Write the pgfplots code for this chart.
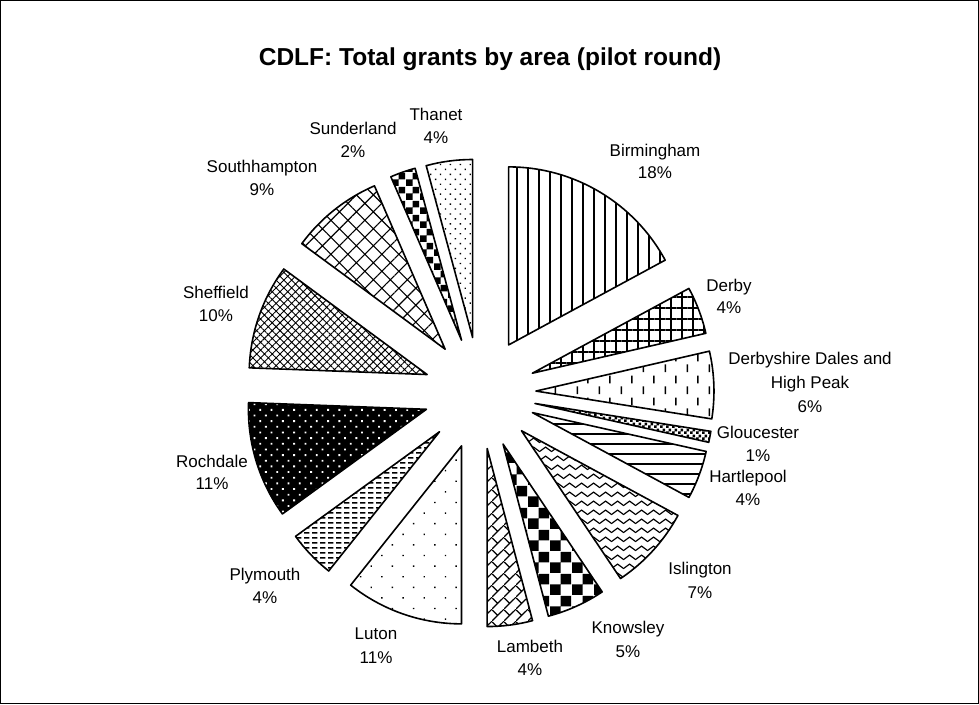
\documentclass[border=0pt]{standalone}
\usepackage{pgfplots}
\pgfplotsset{compat=1.18}
\usepackage{pgfplotstable}
\usepackage{fontspec}
\setmainfont{Liberation Sans}
\usetikzlibrary{patterns,patterns.meta}

% ---- custom hatch patterns ----
\tikzdeclarepattern{name=vdash,type=uncolored,
  bounding box={(0pt,0pt) and (22pt,22pt)},tile size={(22pt,22pt)},
  code={\draw[line width=1.6pt] (5.5pt,2pt) -- (5.5pt,10pt) (16.5pt,13pt) -- (16.5pt,21pt);}}
\tikzdeclarepattern{name=smallcheck,type=uncolored,
  bounding box={(0pt,0pt) and (6pt,6pt)},tile size={(6pt,6pt)},
  code={\fill (0pt,0pt) rectangle (3pt,3pt) (3pt,3pt) rectangle (6pt,6pt);}}
\tikzdeclarepattern{name=medcheck,type=uncolored,
  bounding box={(0pt,0pt) and (14pt,14pt)},tile size={(14pt,14pt)},
  code={\fill (0pt,0pt) rectangle (7pt,7pt) (7pt,7pt) rectangle (14pt,14pt);}}
\tikzdeclarepattern{name=bigcheck,type=uncolored,
  bounding box={(0pt,0pt) and (22pt,22pt)},tile size={(22pt,22pt)},
  code={\fill (0pt,0pt) rectangle (11pt,11pt) (11pt,11pt) rectangle (22pt,22pt);}}
\tikzdeclarepattern{name=zigzag,type=uncolored,
  bounding box={(0pt,0pt) and (12pt,9pt)},tile size={(12pt,9pt)},
  code={\draw[line width=1.3pt] (-1pt,1.5pt) -- (0pt,2pt) -- (6pt,6.5pt) -- (12pt,2pt) -- (13pt,1.5pt);}}
\tikzdeclarepattern{name=hdash,type=uncolored,
  bounding box={(0pt,0pt) and (8pt,5pt)},tile size={(8pt,5pt)},
  code={\draw[line width=2pt] (0pt,2.5pt) -- (6pt,2.5pt);}}
\tikzdeclarepattern{name=diagbrick,type=uncolored,
  bounding box={(0pt,0pt) and (12pt,12pt)},tile size={(12pt,12pt)},
  code={\draw[line width=1.3pt] (-1pt,-1pt) -- (13pt,13pt) (6pt,6pt) -- (0pt,12pt);}}

\tikzset{
  slicebase/.style={draw=black,line width=1.6pt,line join=round},
  slice0/.style={slicebase,pattern={Lines[angle=90,distance=11pt,line width=2pt]}},
  slice1/.style={slicebase,pattern={Hatch[angle=0,distance=11pt,line width=2pt]}},
  slice2/.style={slicebase,pattern=vdash},
  slice3/.style={slicebase,pattern=smallcheck},
  slice4/.style={slicebase,pattern={Lines[angle=0,distance=10pt,line width=2.2pt]}},
  slice5/.style={slicebase,pattern=zigzag},
  slice6/.style={slicebase,pattern=bigcheck},
  slice7/.style={slicebase,pattern=diagbrick},
  slice8/.style={slicebase,pattern={Dots[angle=45,distance=15pt,radius=1pt]}},
  slice9/.style={slicebase,pattern=hdash},
  slice10/.style={slicebase,preaction={fill=black},pattern={Dots[angle=45,distance=8pt,radius=1.3pt]},pattern color=white},
  slice11/.style={slicebase,pattern={Hatch[angle=45,distance=5.5pt,line width=0.9pt]}},
  slice12/.style={slicebase,pattern={Hatch[angle=45,distance=12pt,line width=1.1pt]}},
  slice13/.style={slicebase,pattern=medcheck},
  slice14/.style={slicebase,pattern={Dots[angle=45,distance=7pt,radius=1pt]}},
}

% share of each area (percent of total grants), clockwise from 12 o'clock
\pgfplotstableread[col sep=comma]{
area,share
Birmingham,17.1
Derby,4.3
Derbyshire Dales and High Peak,6.1
Gloucester,1.0
Hartlepool,4.4
Islington,7.7
Knowsley,5.3
Lambeth,4.1
Luton,10.7
Plymouth,4.3
Rochdale,10.6
Sheffield,9.5
Southhampton,8.4
Sunderland,2.3
Thanet,4.2
}\pietable

\newcommand\lbl{\fontsize{17}{20}\selectfont}

\begin{document}
\begin{tikzpicture}
\begin{axis}[
  width=979pt, height=704pt, scale only axis,
  xmin=0, xmax=979, ymin=0, ymax=704, y dir=reverse,
  hide axis, clip=false,
]
\def\cum{0}
\pgfplotsforeachungrouped \i in {0,...,14}{%
  \pgfplotstablegetelem{\i}{share}\of\pietable
  \let\val\pgfplotsretval
  \pgfmathsetmacro\aone{90-3.6*\cum}%
  \pgfmathsetmacro\cum{\cum+\val}%
  \pgfmathsetmacro\atwo{90-3.6*\cum}%
  \pgfmathsetmacro\amid{(\aone+\atwo)/2}%
  \edef\temp{\noexpand\draw[slice\i] ([shift={(\amid:56pt)}]axis cs:480,393) -- ++(\aone:178pt) arc[start angle=\aone, end angle=\atwo, radius=178pt] -- cycle;}%
  \temp
}

\draw[line width=1pt] (axis cs:0.5,0.5) rectangle (axis cs:978.5,703.5);

\node[anchor=base,font=\fontsize{24.5}{28}\selectfont\bfseries] at (axis cs:490,65) {CDLF: Total grants by area (pilot round)};

\node[anchor=base,font=\lbl] at (axis cs:655,156) {Birmingham};
\node[anchor=base,font=\lbl] at (axis cs:655,178) {18\%};
\node[anchor=base,font=\lbl] at (axis cs:729,291) {Derby};
\node[anchor=base,font=\lbl] at (axis cs:729,313) {4\%};
\node[anchor=base,font=\lbl] at (axis cs:810,364) {Derbyshire Dales and};
\node[anchor=base,font=\lbl] at (axis cs:810,388) {High Peak};
\node[anchor=base,font=\lbl] at (axis cs:810,412) {6\%};
\node[anchor=base,font=\lbl] at (axis cs:758,438) {Gloucester};
\node[anchor=base,font=\lbl] at (axis cs:758,461) {1\%};
\node[anchor=base,font=\lbl] at (axis cs:748,482) {Hartlepool};
\node[anchor=base,font=\lbl] at (axis cs:748,505) {4\%};
\node[anchor=base,font=\lbl] at (axis cs:700,574) {Islington};
\node[anchor=base,font=\lbl] at (axis cs:700,598) {7\%};
\node[anchor=base,font=\lbl] at (axis cs:628,633) {Knowsley};
\node[anchor=base,font=\lbl] at (axis cs:628,657) {5\%};
\node[anchor=base,font=\lbl] at (axis cs:530,652) {Lambeth};
\node[anchor=base,font=\lbl] at (axis cs:530,675) {4\%};
\node[anchor=base,font=\lbl] at (axis cs:376,639) {Luton};
\node[anchor=base,font=\lbl] at (axis cs:376,663) {11\%};
\node[anchor=base,font=\lbl] at (axis cs:265,580) {Plymouth};
\node[anchor=base,font=\lbl] at (axis cs:265,603) {4\%};
\node[anchor=base,font=\lbl] at (axis cs:212,467) {Rochdale};
\node[anchor=base,font=\lbl] at (axis cs:212,489) {11\%};
\node[anchor=base,font=\lbl] at (axis cs:216,298) {Sheffield};
\node[anchor=base,font=\lbl] at (axis cs:216,321) {10\%};
\node[anchor=base,font=\lbl] at (axis cs:262,172) {Southhampton};
\node[anchor=base,font=\lbl] at (axis cs:262,195) {9\%};
\node[anchor=base,font=\lbl] at (axis cs:353,134) {Sunderland};
\node[anchor=base,font=\lbl] at (axis cs:353,157) {2\%};
\node[anchor=base,font=\lbl] at (axis cs:436,120) {Thanet};
\node[anchor=base,font=\lbl] at (axis cs:436,143) {4\%};
\end{axis}
\end{tikzpicture}
\end{document}
